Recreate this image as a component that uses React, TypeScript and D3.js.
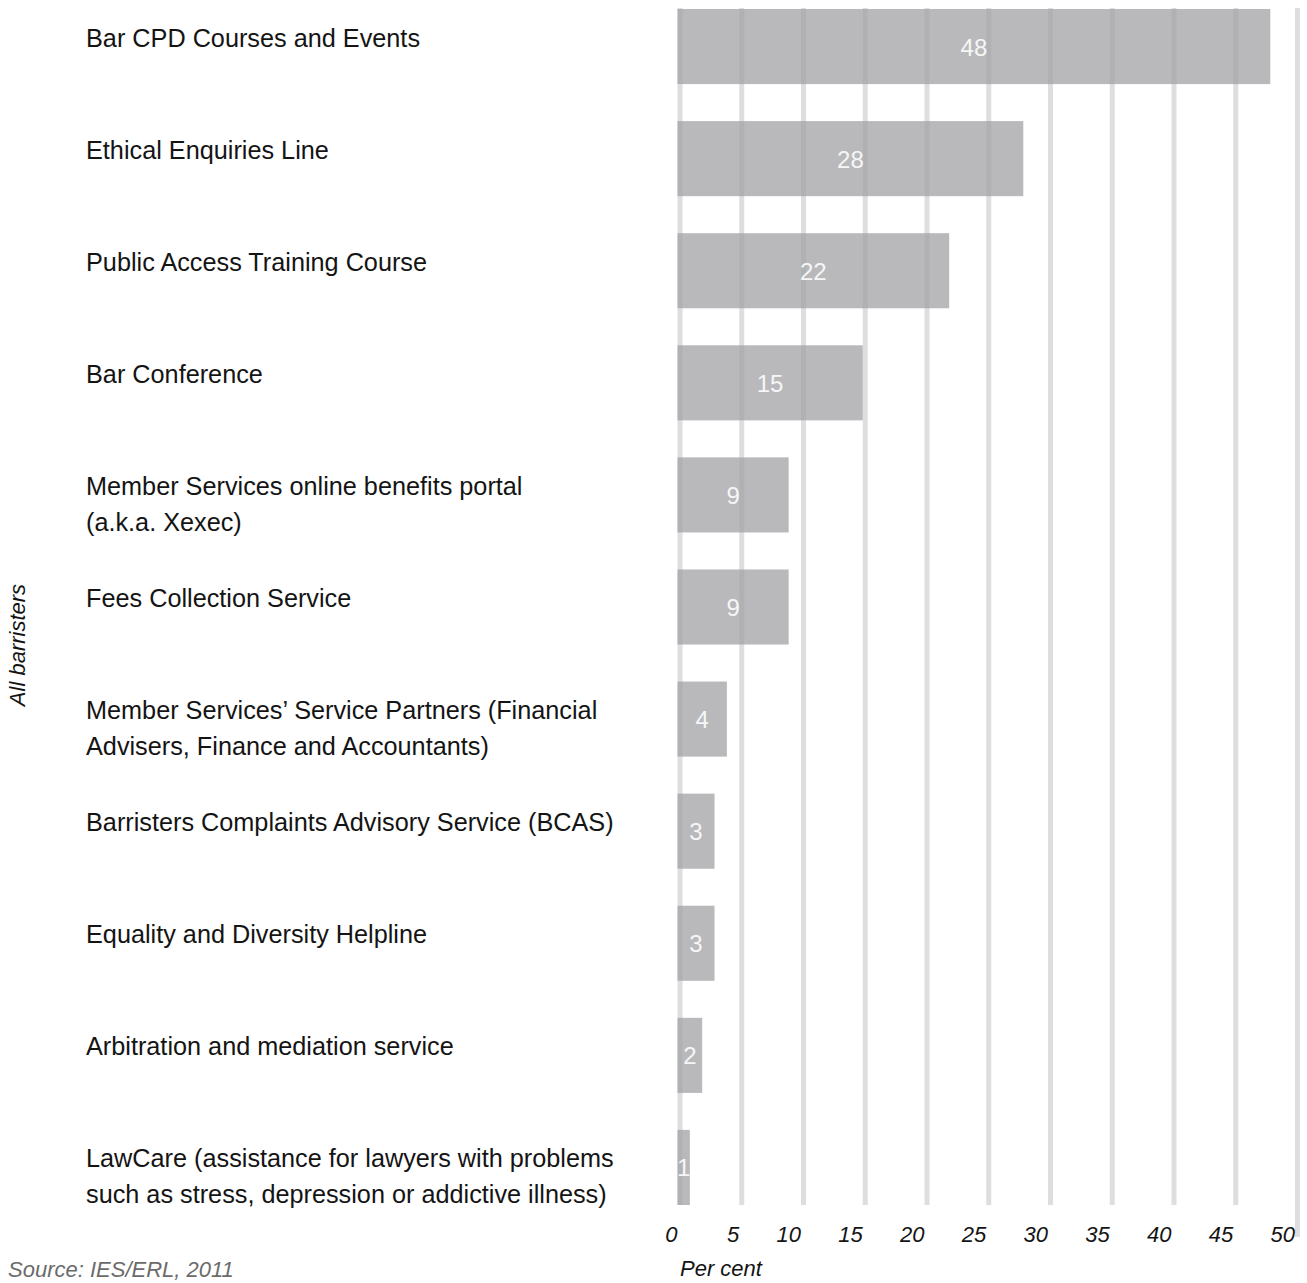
import React from "react";
import * as d3 from "d3";

const categories: string[][] = [
  ["Bar CPD Courses and Events"],
  ["Ethical Enquiries Line"],
  ["Public Access Training Course"],
  ["Bar Conference"],
  ["Member Services online benefits portal", "(a.k.a. Xexec)"],
  ["Fees Collection Service"],
  ["Member Services\u2019 Service Partners (Financial", "Advisers, Finance and Accountants)"],
  ["Barristers Complaints Advisory Service (BCAS)"],
  ["Equality and Diversity Helpline"],
  ["Arbitration and mediation service"],
  ["LawCare (assistance for lawyers with problems", "such as stress, depression or addictive illness)"],
];
const values: number[] = [48, 28, 22, 15, 9, 9, 4, 3, 3, 2, 1];
const ticks: number[] = [0, 5, 10, 15, 20, 25, 30, 35, 40, 45, 50];

const W = 1307;
const H = 1283;
const FONT = "'Liberation Sans', Arial, sans-serif";

export default function App() {
  const x = d3.scaleLinear().domain([0, 50]).range([677.5, 1295]);
  const ids = categories.map((_, i) => String(i));
  const y = d3.scaleBand<string>().domain(ids).range([9, 1205]).paddingInner(0.33).paddingOuter(0);
  const bw = y.bandwidth();
  const gridW = 5;

  return (
    <svg width={W} height={H} style={{ position: "absolute", left: 0, top: 0 }} fontFamily={FONT}>
      <rect x={0} y={0} width={W} height={H} fill="#fff" />
      {ticks.map((t, i) => (
        <rect
          key={"g" + t}
          x={x(t)}
          y={8}
          width={gridW}
          height={(i === ticks.length - 1 ? 1237 : 1205) - 8}
          fill="#dddee0"
        />
      ))}
      {values.map((v, i) => {
        const y0 = y(String(i))!;
        return (
          <g key={"b" + i}>
            <rect x={x(0)} y={y0} width={x(v) - x(0)} height={bw} fill="rgb(160,161,164)" fillOpacity={0.74} />
            <text
              x={(x(0) + x(v)) / 2}
              y={y0 + bw / 2 + 9}
              textAnchor="middle"
              fontSize={24}
              fill="#f6f6f6"
            >
              {Math.round(v)}
            </text>
          </g>
        );
      })}
      {categories.map((lines, i) => {
        const yc = y(String(i))! + bw / 2;
        return (
          <text key={"c" + i} x={86} y={yc} fontSize={25.25} fill="#141414">
            {lines.map((l, j) => (
              <tspan key={j} x={86} y={yc + j * 36}>
                {l}
              </tspan>
            ))}
          </text>
        );
      })}
      {ticks.map((t) => (
        <text key={"t" + t} x={x(t)} y={1242} textAnchor="end" fontSize={22} fontStyle="italic" fill="#141414">
          {t}
        </text>
      ))}
      <text x={680} y={1276} fontSize={22} fontStyle="italic" fill="#141414">
        Per cent
      </text>
      <text x={8} y={1277} fontSize={22} fontStyle="italic" fill="#6b6b6b">
        Source: IES/ERL, 2011
      </text>
      <text
        transform="translate(25,645) rotate(-90)"
        textAnchor="middle"
        fontSize={22}
        fontStyle="italic"
        fill="#141414"
      >
        All barristers
      </text>
    </svg>
  );
}
